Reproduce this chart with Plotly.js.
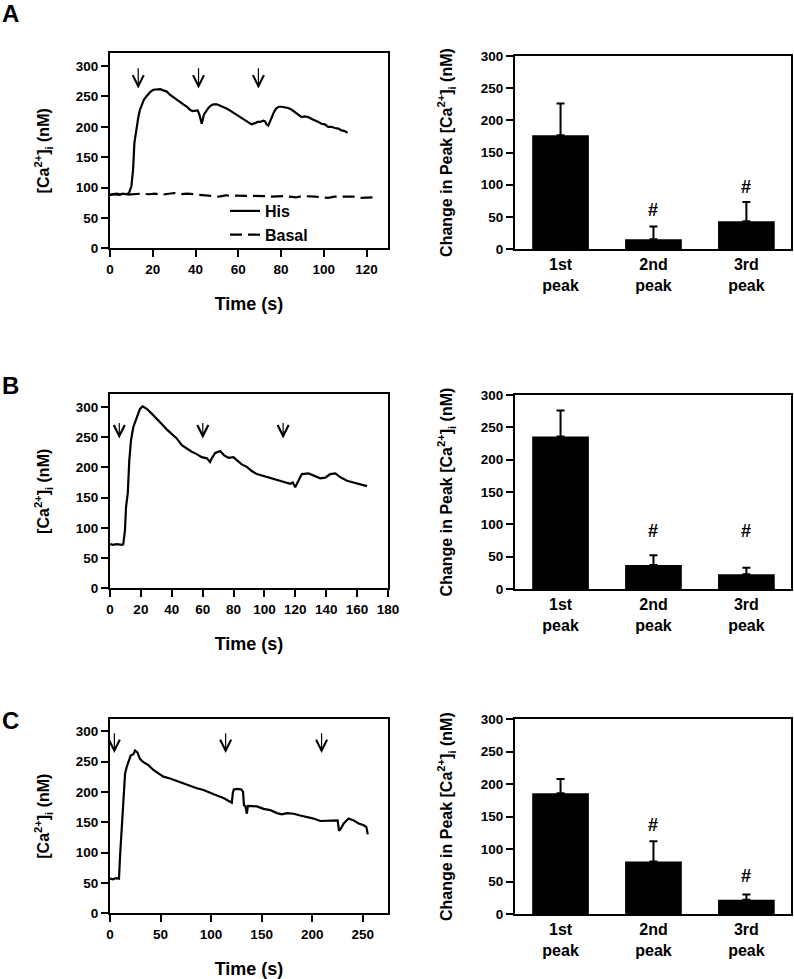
<!DOCTYPE html>
<html><head><meta charset="utf-8">
<script src="https://cdn.plot.ly/plotly-3.0.1.min.js"></script>
<style>html,body{margin:0;padding:0;background:#fff}#chart{width:794px;height:979px}</style>
</head><body><div id="chart"></div>
<script>
// ---------- Panel A: time course ----------
const timeA = [0,2,4,6,8,9,10,10.8,11.4,12,12.5,13.2,14,15,15.9,17,17.9,19,20.3,21.8,23.5,24.9,26.5,28,29.5,31.2,32.8,34.3,36,37.4,38.6,39.7,41,41.8,42.9,43.9,45,46,47.2,48.3,50,51.4,53,54.5,56,57.7,59.2,60.8,62.4,63.9,65,66.2,67.8,69,70.1,71.7,72.5,73.2,74,75,75.6,76.8,77.9,79,80.2,81.8,83.3,85,86.5,88,89.6,91,92.7,94.3,95.9,97.5,98.9,100.5,102,103.5,105.2,106.8,108.3,109.8,111.1];
const hisA = [88,89,88,90,89,92,102,130,173,190,201,215,228,238,245,250,254,258,261,262,262,260,258,253,249,244,241,237,233,228,226,226,227,220,205,220,226,231,235,237,237,235,233,230,227,223,220,216,213,209,206,204,206,208,208,210,209,204,202,210,217,225,231,233,233,232,231,228,224,220,216,217,216,213,211,208,205,204,200,200,198,197,194,193,190];
const basalTimeA = [0,3,6,9,12,15,18,21,24,27,30,33,36,39,42,45,48,51,54,57,60,63,66,69,72,75,78,81,84,87,90,93,96,99,102,105,108,111,114,117,120,123.7];
const basalA = [88,90,88,89,90,90,89,90,88,90,91,89,90,89,88,86,86,85,87,87,86,86,86,87,86,85,86,86,85,84,86,86,85,84,83,85,85,84,85,83,84,84];

// ---------- Panel B: time course ----------
const timeB = [0,2,4,6,8,8.6,9.7,10.4,11.5,12.5,13.6,15.1,17.3,19.4,21.2,23.8,27,30.3,33.5,36.7,40,43.2,46.5,49.7,52.9,56.2,59.4,62.7,64.8,65.9,68.1,71.3,73.9,76.7,80,82.1,85.3,88.6,91.8,95.1,99.4,103.7,108,112.4,116.7,118.4,119.9,121.6,124.2,128.6,132.9,136.1,139.4,142.6,145.9,149.1,153.4,157.7,162.1,166.4];
const hisB = [73,72,73,72,72,73,96,135,157,212,245,267,283,297,301,297,289,281,272,263,256,248,237,231,226,222,217,215,209,215,224,227,220,216,217,212,205,201,194,189,186,183,179,176,173,175,167,176,189,190,186,182,183,189,190,184,178,175,172,169];

// ---------- Panel C: time course ----------
const timeC = [0,3,6,8.9,9.9,11.6,13.2,14.9,16.5,18.2,20.5,23.1,24.8,27.1,29.7,33,38,42.9,47.9,52.8,59.4,66,72.7,79.3,85.9,92.5,99,105.7,112.3,118.9,120.5,121.5,122.5,126,130,131.6,132.5,134,135.4,136.4,140.4,145.3,151.9,158.5,165.1,170.1,175,181.6,188.2,194.8,201.5,208,214.7,221.3,225.2,226.5,228.5,231.2,236.1,241,246,251,253.6,255];
const hisC = [57,56,58,57,93,134,181,230,241,249,260,262,268,265,254,249,244,236,230,225,222,218,213,209,206,203,198,194,190,183,182,198,204,205,204,200,178,176,164,177,176,176,172,170,165,163,165,164,161,159,156,152,152,153,153,136,140,148,156,153,148,145,142,130];

// ---------- Bar charts ----------
const peakLabels = ['1st<br>peak','2nd<br>peak','3rd<br>peak'];
const peakA = [177,15,43];  const errA = [49,20,30];  const hashA = [null,60,97];
const peakB = [236,37,23];  const errB = [40,15,10];  const hashB = [null,89,89];
const peakC = [186,81,22];  const errC = [22,31,8];   const hashC = [null,137,58];

// ---------- Stimulus arrows (time, tip value, tail value) ----------
const arrowTimesA = [13.2,41.4,69.4]; const arrowTipA = 263; const arrowTailA = 299;
const arrowTimesB = [6.0,60.1,112.1]; const arrowTipB = 248; const arrowTailB = 276;
const arrowTimesC = [4.3,114.4,209.3]; const arrowTipC = 264; const arrowTailC = 299;

// ---------- x-axis ticks ----------
const ticksA = [0,20,40,60,80,100,120];
const ticksB = [0,20,40,60,80,100,120,140,160,180];
const ticksC = [0,50,100,150,200,250];
const ticksY = [0,50,100,150,200,250,300];

const FONT = 'Liberation Sans, Arial, Helvetica, sans-serif';
const W = 794, H = 979;
const px = v => v / W;
const py = v => 1 - v / H;

const traces = [];
function lineTrace(x, y, xa, ya, name, dash, show) {
  return {type:'scatter', mode:'lines', x:x, y:y, xaxis:xa, yaxis:ya, name:name,
    line:{color:'#000', width:2.2, dash:dash||'solid'}, showlegend:!!show, hoverinfo:'skip'};
}
function barTrace(vals, errs, xa, ya) {
  return {type:'bar', x:[0,1,2], y:vals, xaxis:xa, yaxis:ya, width:0.61,
    marker:{color:'#000', line:{width:0}}, showlegend:false, hoverinfo:'skip',
    error_y:{type:'data', symmetric:false, array:errs, arrayminus:[0,0,0], color:'#000', thickness:2, width:4}};
}
traces.push(lineTrace(timeA, hisA, 'x', 'y', 'His', 'solid', true));
traces.push(lineTrace(basalTimeA, basalA, 'x', 'y', 'Basal', '12px,6px', true));
traces.push(barTrace(peakA, errA, 'x2', 'y2'));
traces.push(lineTrace(timeB, hisB, 'x3', 'y3', 'His B', 'solid', false));
traces.push(barTrace(peakB, errB, 'x4', 'y4'));
traces.push(lineTrace(timeC, hisC, 'x5', 'y5', 'His C', 'solid', false));
traces.push(barTrace(peakC, errC, 'x6', 'y6'));

const tickFont = {family:FONT, size:13.5, color:'#000', weight:'bold'};
function baseAxis(extra) {
  return Object.assign({showline:true, linewidth:2, linecolor:'#000', mirror:true,
    showgrid:false, zeroline:false, ticks:'outside', ticklen:7, tickwidth:2, tickcolor:'#000',
    tickfont:tickFont, fixedrange:true}, extra);
}
const ytitleLine = {text:'[Ca<sup>2+</sup>]<sub>i</sub> (nM)', font:{family:FONT, size:16, weight:'bold', color:'#000'}, standoff:22};
const ytitleBar = {text:'Change in Peak [Ca<sup>2+</sup>]<sub>i</sub> (nM)', font:{family:FONT, size:16, weight:'bold', color:'#000'}, standoff:24};
const xtitleTime = {text:'Time (s)', font:{family:FONT, size:18, weight:'bold', color:'#000'}, standoff:22};

const domLeft = [px(110), px(388)];
const domRight = [px(515), px(791)];
const rowA = [py(248.3), py(53.3)], rowB = [py(588.3), py(394.3)], rowC = [py(913.3), py(719)];
const rowAb = [py(249), py(56)], rowBb = [py(589), py(395)], rowCb = [py(914), py(719.3)];

function barX(anchor) {
  return baseAxis({domain:domRight, anchor:anchor, range:[-0.49,2.48], tickvals:[0,1,2], ticktext:peakLabels,
    ticks:'', tickfont:{family:FONT, size:16, color:'#000', weight:'bold'}, ticklabelstandoff:0});
}
function barY(anchor, dom) {
  return baseAxis({domain:dom, anchor:anchor, range:[0,300], tickvals:ticksY, title:ytitleBar});
}

const layout = {
  width:W, height:H, margin:{l:0,r:0,t:0,b:0}, paper_bgcolor:'#fff', plot_bgcolor:'#fff',
  font:{family:FONT, color:'#000'},
  showlegend:true,
  legend:{x:px(225), y:py(194), xanchor:'left', yanchor:'top', bgcolor:'rgba(0,0,0,0)',
    font:{family:FONT, size:16, weight:'bold', color:'#000'}, itemwidth:30, tracegroupgap:0},
  xaxis: baseAxis({domain:domLeft, anchor:'y', range:[0,130], tickvals:ticksA, title:xtitleTime}),
  yaxis: baseAxis({domain:rowA, anchor:'x', range:[0,321], tickvals:ticksY, title:ytitleLine}),
  xaxis2: barX('y2'), yaxis2: barY('x2', rowAb),
  xaxis3: baseAxis({domain:domLeft, anchor:'y3', range:[0,180], tickvals:ticksB, title:xtitleTime}),
  yaxis3: baseAxis({domain:rowB, anchor:'x3', range:[0,321], tickvals:ticksY, title:ytitleLine}),
  xaxis4: barX('y4'), yaxis4: barY('x4', rowBb),
  xaxis5: baseAxis({domain:domLeft, anchor:'y5', range:[0,275], tickvals:ticksC, title:xtitleTime}),
  yaxis5: baseAxis({domain:rowC, anchor:'x5', range:[0,320], tickvals:ticksY, title:ytitleLine}),
  xaxis6: barX('y6'), yaxis6: barY('x6', rowCb),
  annotations:[]
};

const letterFont = {family:FONT, size:24, weight:'bold', color:'#000'};
[['A',13.5],['B',385],['C',720]].forEach(([t,yc]) => {
  layout.annotations.push({text:t, xref:'paper', yref:'paper', x:px(10), y:py(yc), xanchor:'center', yanchor:'middle', showarrow:false, font:letterFont});
});

function addArrows(times, tip, tail, xa, ya) {
  times.forEach(t => layout.annotations.push({xref:xa, yref:ya, axref:xa, ayref:ya, x:t, y:tip, ax:t, ay:tail,
    text:'', showarrow:true, arrowhead:5, arrowsize:1.8, arrowwidth:1.2, arrowcolor:'#000', standoff:0, startstandoff:0}));
}
addArrows(arrowTimesA, arrowTipA, arrowTailA, 'x', 'y');
addArrows(arrowTimesB, arrowTipB, arrowTailB, 'x3', 'y3');
addArrows(arrowTimesC, arrowTipC, arrowTailC, 'x5', 'y5');

function addHashes(hs, xa, ya) {
  hs.forEach((h,i) => { if (h !== null) layout.annotations.push({xref:xa, yref:ya, x:i, y:h, text:'#', showarrow:false,
    xanchor:'center', yanchor:'middle', font:{family:FONT, size:18, weight:'bold', color:'#000'}}); });
}
addHashes(hashA, 'x2', 'y2');
addHashes(hashB, 'x4', 'y4');
addHashes(hashC, 'x6', 'y6');

Plotly.newPlot('chart', traces, layout, {staticPlot:true, displayModeBar:false});
</script></body></html>
